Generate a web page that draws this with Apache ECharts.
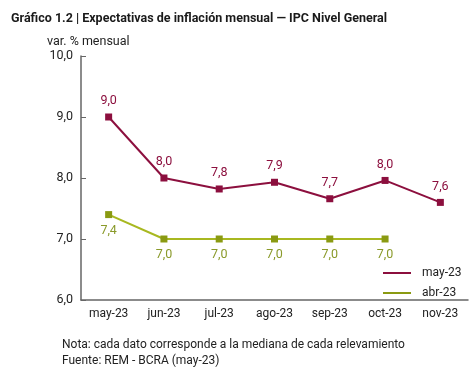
<!DOCTYPE html>
<html><head><meta charset="utf-8">
<script src="https://cdn.jsdelivr.net/npm/echarts@6/dist/echarts.min.js"></script>
<style>html,body{margin:0;padding:0;background:#fff}#c{width:474px;height:368px}</style>
</head><body><div id="c"></div>
<script>
const categories = ['may-23','jun-23','jul-23','ago-23','sep-23','oct-23','nov-23'];
const may23 = [9.0, 8.0, 7.82, 7.93, 7.66, 7.96, 7.6];
const abr23 = [7.4, 7.0, 7.0, 7.0, 7.0, 7.0, null];
const yTicks = [6, 7, 8, 9, 10];
const fmt = v => v.toFixed(1).replace('.', ',');
const F = 'Roboto, sans-serif';
const chart = echarts.init(document.getElementById('c'));
chart.setOption({
  animation:false,
  textStyle:{fontFamily:F},
  title:[
    {text:'Gráfico 1.2 | Expectativas de inflación mensual — IPC Nivel General', left:6, top:7,
     textStyle:{fontFamily:F, fontWeight:'bold', fontSize:12.5, color:'#1a1a1a'}},
    {text:'var. % mensual', left:42, top:30, textStyle:{fontFamily:F, fontWeight:'normal', fontSize:12.5, color:'#222'}},
    {text:'Nota: cada dato corresponde a la mediana de cada relevamiento\nFuente: REM - BCRA (may-23)', left:57, top:332,
     textStyle:{fontFamily:F, fontWeight:'normal', fontSize:12, lineHeight:16, color:'#222'}}
  ],
  legend:{orient:'vertical', left:378, top:262, itemWidth:28, itemHeight:2, itemGap:8,
    icon:'rect', textStyle:{fontFamily:F, fontSize:12, color:'#222', padding:[0,0,0,6]},
    data:['may-23','abr-23']},
  grid:{left:81, right:6, top:56, bottom:68},
  xAxis:{type:'category', data:categories, boundaryGap:true,
    axisLine:{lineStyle:{color:'#666', width:1.5}},
    axisTick:{alignWithLabel:true, inside:true, length:5, lineStyle:{color:'#666'}},
    axisLabel:{fontFamily:F, fontSize:12, color:'#222', margin:8, interval:0}},
  yAxis:{type:'value', min:yTicks[0], max:yTicks[yTicks.length-1], interval:1,
    splitLine:{show:false},
    axisLine:{show:true, lineStyle:{color:'#666', width:1.5}},
    axisTick:{show:true, inside:true, length:5, lineStyle:{color:'#666'}},
    axisLabel:{fontFamily:F, fontSize:12.5, color:'#222', margin:8, formatter:fmt}},
  series:[
    {name:'may-23', type:'line', data:may23, symbol:'rect', symbolSize:7,
     itemStyle:{color:'#8c0f3e'}, lineStyle:{color:'#8c0f3e', width:2},
     label:{show:true, position:'top', distance:6, fontFamily:F, fontSize:12.5, color:'#8c0f3e', formatter:p=>fmt(p.value)}},
    {name:'abr-23', type:'line', data:abr23, symbol:'rect', symbolSize:7,
     itemStyle:{color:'#8a9a12'}, lineStyle:{color:'#a8b820', width:2},
     label:{show:true, position:'bottom', distance:6, fontFamily:F, fontSize:12.5, color:'#8a9a2a', formatter:p=>fmt(p.value)}}
  ]
});
</script></body></html>
